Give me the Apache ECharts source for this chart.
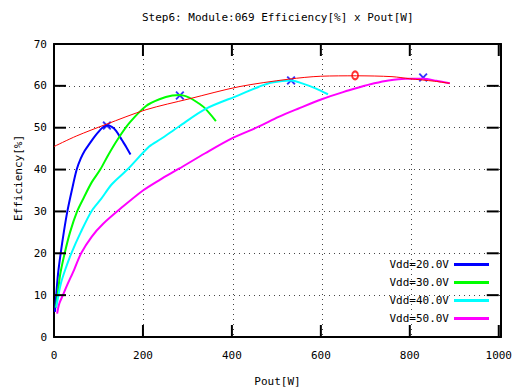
<!DOCTYPE html>
<html><head><meta charset="utf-8">
<script src="https://cdn.jsdelivr.net/npm/echarts@6/dist/echarts.min.js"></script>
<style>html,body{margin:0;padding:0;background:#fff}#c{width:515px;height:388px}</style>
</head><body><div id="c"></div>
<script>
const titleText = 'Step6: Module:069 Efficiency[%] x Pout[W]';
const xName = 'Pout[W]';
const yName = 'Efficiency[%]';
const seriesNames = ['Vdd=20.0V', 'Vdd=30.0V', 'Vdd=40.0V', 'Vdd=50.0V'];
const seriesColors = ['#0000ff', '#00ff00', '#00ffff', '#ff00ff'];
const xTickValues = [0, 200, 400, 600, 800, 1000];
const yTickValues = [0, 10, 20, 30, 40, 50, 60, 70];

const vdd20 = [[2,6],[5,10],[9,15],[15,20],[22,25],[30,30],[40,35],[51,40],[60,42.6],[69,44.5],[80,46.2],[90,47.7],[100,49],[110,50.1],[119,50.5],[130,50.2],[140,49.2],[153,47],[163,45.3],[172,43.6]];
const vdd30 = [[4,7],[8,10],[14,15],[24,20],[36,25],[52,30],[68,33.5],[85,37],[104,40],[122,43.5],[143,47.2],[170,51.2],[207,55.2],[237,56.8],[266,57.7],[283,57.8],[304,57.2],[320,56.2],[338,54.8],[364,51.6]];
const vdd40 = [[5,7],[10,10],[16,13],[25,16],[39,20],[60,25],[84,30],[106,33],[130,36.5],[165,40],[214,45.5],[240,47.3],[281,50.3],[341,54.5],[416,57.8],[461,59.8],[490,60.8],[533,61.3],[558,60.6],[588,59.4],[616,58]];
const vdd50 = [[7,5.6],[12,8],[20,10],[30,12.5],[45,16],[61,20],[85,24],[110,27],[151,30.8],[200,35],[237,37.5],[281,40.2],[340,43.9],[401,47.5],[461,50.3],[505,52.6],[550,54.6],[602,56.8],[650,58.5],[685,59.6],[720,60.6],[752,61.3],[790,61.7],[830,61.7],[860,61.2],[890,60.6]];
const envelope = [[0,45.5],[50,48],[117,50.8],[207,54.3],[304,56.9],[416,59.8],[528,61.6],[600,62.3],[680,62.4],[760,62.2],[800,61.7],[856,61.1],[890,60.6]];
const peakPoints = [[119,50.5],[283,57.7],[533,61.3],[830,62.0]];
const bestPoint = [[677,62.5]];

const FONT = 'DejaVu Sans Mono';
const curves = [vdd20, vdd30, vdd40, vdd50];

const chart = echarts.init(document.getElementById('c'), null, {renderer: 'svg'});
const gridBox = {left: 54, right: 14, top: 44, bottom: 51};
const frameAxis = (pos, isX) => Object.assign({
  type: 'value', gridIndex: 1, position: pos,
  splitLine: {show: true, lineStyle: {color: '#444', type: [1, 4]}},
  axisLabel: {show: false},
  axisLine: {show: true, onZero: false, lineStyle: {color: '#000', width: 2}},
  axisTick: {show: false}
}, isX ? {min: 0, max: 1000, interval: 200} : {min: 0, max: 70, interval: 10});
const labelStyle = () => ({fontFamily: FONT, fontSize: 11, color: '#000'});

const series = curves.map((d, i) => ({
  name: seriesNames[i], type: 'line', data: d, showSymbol: false, smooth: 0.3,
  xAxisIndex: 0, yAxisIndex: 0,
  lineStyle: {color: seriesColors[i], width: 2}, itemStyle: {color: seriesColors[i]}
}));
series.push({name: 'envelope', type: 'line', data: envelope, showSymbol: false, smooth: 0.3,
  xAxisIndex: 0, yAxisIndex: 0,
  lineStyle: {color: '#ff0000', width: 1}, itemStyle: {color: '#ff0000'}});
series.push({name: 'peaks', type: 'scatter', data: peakPoints, xAxisIndex: 0, yAxisIndex: 0,
  symbol: 'path://M0,1.5L1.5,0L5,3.5L8.5,0L10,1.5L6.5,5L10,8.5L8.5,10L5,6.5L1.5,10L0,8.5L3.5,5Z',
  symbolSize: [9, 9], itemStyle: {color: '#0000ff'}});
series.push({name: 'best', type: 'scatter', data: bestPoint, xAxisIndex: 0, yAxisIndex: 0, symbol: 'emptyCircle',
  symbolSize: [6, 8], itemStyle: {color: '#ff0000', borderColor: '#ff0000', borderWidth: 2}});

// inward tick marks on all four sides, placed from the tick values through the axis scales
const tickData = xTickValues.map(v => [v, 0, 0]).concat(yTickValues.map(v => [0, v, 1]));
const TICK = 12;
series.push({
  name: 'ticks', type: 'custom', xAxisIndex: 0, yAxisIndex: 0, silent: true, clip: false, z: 5,
  data: tickData,
  renderItem: function (params, api) {
    const cs = params.coordSys;
    const st = {stroke: '#000', lineWidth: 2};
    if (api.value(2) === 0) {
      const px = api.coord([api.value(0), 0])[0];
      const yb = cs.y + cs.height, yt = cs.y;
      return {type: 'group', children: [
        {type: 'line', shape: {x1: px, y1: yb, x2: px, y2: yb - TICK}, style: st},
        {type: 'line', shape: {x1: px, y1: yt, x2: px, y2: yt + TICK}, style: st}
      ]};
    }
    const py = api.coord([0, api.value(1)])[1];
    const xl = cs.x, xr = cs.x + cs.width;
    return {type: 'group', children: [
      {type: 'line', shape: {x1: xl, y1: py, x2: xl + TICK, y2: py}, style: st},
      {type: 'line', shape: {x1: xr, y1: py, x2: xr - TICK, y2: py}, style: st}
    ]};
  }
});

chart.setOption({
  animation: false,
  title: {text: titleText, left: 142, top: 12, padding: 0,
    textStyle: {fontFamily: FONT, fontSize: 11, fontWeight: 'normal', color: '#000'}},
  grid: [Object.assign({}, gridBox), Object.assign({}, gridBox)],
  legend: {orient: 'vertical', right: 26, top: 259, align: 'right', padding: 0,
    itemWidth: 35, itemHeight: 3, itemGap: 7, icon: 'rect', data: seriesNames,
    textStyle: labelStyle()},
  xAxis: [
    {type: 'value', gridIndex: 0, min: 0, max: 1000, interval: 200, position: 'bottom',
     axisLine: {show: false}, axisTick: {show: false}, splitLine: {show: false},
     axisLabel: Object.assign({margin: 13, formatter: v => String(v)}, labelStyle())},
    frameAxis('bottom', true),
    frameAxis('top', true)
  ],
  yAxis: [
    {type: 'value', gridIndex: 0, min: 0, max: 70, interval: 10, position: 'left',
     axisLine: {show: false}, axisTick: {show: false}, splitLine: {show: false},
     axisLabel: Object.assign({margin: 7, formatter: v => String(v)}, labelStyle())},
    frameAxis('left', false),
    frameAxis('right', false)
  ],
  graphic: [
    {type: 'text', x: 277.5, y: 381, silent: true,
     style: {text: xName, fontFamily: FONT, fontSize: 11, fill: '#000', align: 'center', verticalAlign: 'middle'}},
    {type: 'text', x: 18, y: 178, rotation: Math.PI / 2, silent: true,
     style: {text: yName, fontFamily: FONT, fontSize: 11, fill: '#000', align: 'center', verticalAlign: 'middle'}}
  ],
  series: series
});
</script></body></html>
